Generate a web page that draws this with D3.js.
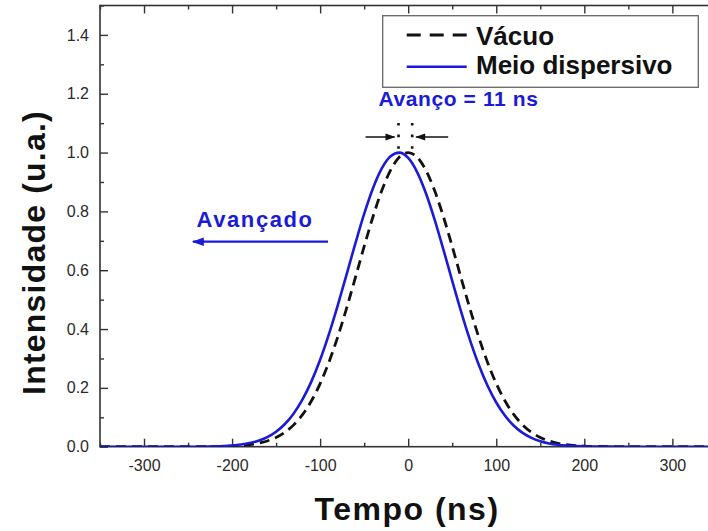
<!DOCTYPE html>
<html><head><meta charset="utf-8">
<script src="https://cdn.jsdelivr.net/npm/d3@7"></script>
<style>
body{margin:0;background:#fff}
svg{display:block;font-family:"Liberation Sans",Arial,Helvetica,sans-serif}
</style>
</head><body>
<svg id="chart" width="708" height="531"></svg>
<script>
// ---- data ----
const tempo = [-350,-300,-250,-240,-230,-220,-210,-200,-190,-180,-170,-160,-150,-140,-130,-120,-110,-100,-90,-80,-70,-60,-50,-40,-30,-20,-10,0,
  10,20,30,40,50,60,70,80,90,100,110,120,130,140,150,160,170,180,190,200,210,220,230,240,250,300,350];
const vacuo = [0,0,0,0,0.0003,0.0006,0.0011,0.0021,0.0039,0.0068,0.0117,0.0195,0.0313,0.0490,0.0742,0.1090,0.1553,0.2147,0.2875,0.3735,0.4705,0.5747,0.6807,0.7818,0.8707,0.9403,0.9847,1.0,
  0.9847,0.9403,0.8707,0.7818,0.6807,0.5747,0.4705,0.3735,0.2875,0.2147,0.1553,0.1090,0.0742,0.0490,0.0313,0.0195,0.0117,0.0068,0.0039,0.0021,0.0011,0.0006,0.0003,0,0,0,0];
const meioDispersivo = [0,0,0,0,0.0006,0.0012,0.0023,0.0041,0.0072,0.0123,0.0204,0.0328,0.0511,0.0772,0.1131,0.1607,0.2213,0.2955,0.3828,0.4806,0.5853,0.6911,0.7913,0.8786,0.9460,0.9876,0.9998,0.9816,
  0.9344,0.8625,0.7721,0.6701,0.5641,0.4603,0.3643,0.2796,0.2081,0.1502,0.1051,0.0713,0.0469,0.0299,0.0185,0.0111,0.0065,0.0036,0.0020,0.0011,0.0005,0.0003,0.0001,0,0,0,0];
const seriesNames = ["Vácuo","Meio dispersivo"];
const xMajorTicks = [-300,-200,-100,0,100,200,300];
const xMinorTicks = [-350,-250,-150,-50,50,150,250,350];
const yMajorTicks = [0,0.2,0.4,0.6,0.8,1.0,1.2,1.4];
const yMinorTicks = [0.1,0.3,0.5,0.7,0.9,1.1,1.3,1.5];
const xDomain = [-350,350];
const yDomain = [0,1.5];
const picoVacuo = 0, picoMeio = -11;
const avancoLabel = "Avanço = 11 ns";
const avancadoLabel = "Avançado";
const xTitle = "Tempo (ns)";
const yTitle = "Intensidade (u.a.)";

// ---- drawing ----
const svg = d3.select("#chart");
const L = 100, R = 716.4, T = 5.5, B = 446.7;
const x = d3.scaleLinear().domain(xDomain).range([L, R]);
const y = d3.scaleLinear().domain(yDomain).range([B, T]);
const axisColor = "#333";
const blue = "#1a1ad8";

svg.append("defs").append("clipPath").attr("id","clip")
  .append("rect").attr("x",L).attr("y",T).attr("width",R-L).attr("height",B-T);

function styleAxis(g){
  g.select(".domain").remove();
  g.selectAll("line").attr("stroke",axisColor).attr("stroke-width",1.4);
  g.selectAll("text").attr("fill","#2a2a2a").style("font-size","16px");
}
// bottom
svg.append("g").attr("transform",`translate(0,${B})`)
  .call(d3.axisBottom(x).tickValues(xMajorTicks).tickSize(-8).tickPadding(13).tickFormat(d => String(d)))
  .call(styleAxis);
svg.append("g").attr("transform",`translate(0,${B})`)
  .call(d3.axisBottom(x).tickValues(xMinorTicks).tickSize(-4).tickFormat(""))
  .call(styleAxis);
// top
svg.append("g").attr("transform",`translate(0,${T})`)
  .call(d3.axisTop(x).tickValues(xMajorTicks).tickSize(-8).tickFormat(""))
  .call(styleAxis);
svg.append("g").attr("transform",`translate(0,${T})`)
  .call(d3.axisTop(x).tickValues(xMinorTicks).tickSize(-4).tickFormat(""))
  .call(styleAxis);
// left
svg.append("g").attr("transform",`translate(${L},0)`)
  .call(d3.axisLeft(y).tickValues(yMajorTicks).tickSize(-8).tickPadding(11).tickFormat(d => d.toFixed(1)))
  .call(styleAxis);
svg.append("g").attr("transform",`translate(${L},0)`)
  .call(d3.axisLeft(y).tickValues(yMinorTicks).tickSize(-4).tickFormat(""))
  .call(styleAxis);
// right
svg.append("g").attr("transform",`translate(${R},0)`)
  .call(d3.axisRight(y).tickValues(yMajorTicks).tickSize(-8).tickFormat(""))
  .call(styleAxis);
svg.append("g").attr("transform",`translate(${R},0)`)
  .call(d3.axisRight(y).tickValues(yMinorTicks).tickSize(-4).tickFormat(""))
  .call(styleAxis);

// frame
svg.append("rect").attr("x",L).attr("y",T).attr("width",R-L).attr("height",B-T)
  .attr("fill","none").attr("stroke",axisColor).attr("stroke-width",1.6);

// curves
const line = d3.line().x((d,i)=>x(tempo[i])).y(d=>y(d)).curve(d3.curveMonotoneX);
const plot = svg.append("g").attr("clip-path","url(#clip)");
plot.append("path").datum(vacuo).attr("d",line)
  .attr("fill","none").attr("stroke","#111").attr("stroke-width",2.8).attr("stroke-dasharray","10 6");
plot.append("path").datum(meioDispersivo).attr("d",line)
  .attr("fill","none").attr("stroke",blue).attr("stroke-width",2.6);

// legend
const lg = svg.append("g");
lg.append("rect").attr("x",382.7).attr("y",15.7).attr("width",315.6).attr("height",71.6)
  .attr("fill","#fff").attr("stroke","#666").attr("stroke-width",1.3);
lg.append("line").attr("x1",406.7).attr("x2",466.7).attr("y1",35).attr("y2",35)
  .attr("stroke","#111").attr("stroke-width",2.8).attr("stroke-dasharray","14 9");
lg.append("line").attr("x1",406.7).attr("x2",466.7).attr("y1",66.7).attr("y2",66.7)
  .attr("stroke",blue).attr("stroke-width",2.6);
lg.selectAll("text.leg").data(seriesNames).join("text").attr("class","leg")
  .attr("x",476).attr("y",(d,i)=>i===0?45:73.5)
  .attr("fill","#111").style("font-size","26px").style("font-weight","bold")
  .text(d=>d);

// arrowheads
const defs = svg.select("defs");
function marker(id,color,w,h){
  defs.append("marker").attr("id",id).attr("viewBox","0 0 10 10").attr("refX",9).attr("refY",5)
    .attr("markerUnits","userSpaceOnUse").attr("markerWidth",w).attr("markerHeight",h).attr("orient","auto")
    .append("path").attr("d","M0,1.5 L10,5 L0,8.5 Z").attr("fill",color);
}
marker("arrK","#111",12,10);
marker("arrB",blue,14,12);

// advance annotation
const yArrow = 137;
svg.append("line").attr("x1",x(picoMeio)-33).attr("x2",x(picoMeio)-4).attr("y1",yArrow).attr("y2",yArrow)
  .attr("stroke","#111").attr("stroke-width",1.5).attr("marker-end","url(#arrK)");
svg.append("line").attr("x1",x(picoVacuo)+40).attr("x2",x(picoVacuo)+8).attr("y1",yArrow).attr("y2",yArrow)
  .attr("stroke","#111").attr("stroke-width",1.5).attr("marker-end","url(#arrK)");
[picoMeio, picoVacuo].forEach((p,i)=>{
  const xx = x(p) + (i===0 ? 0 : 4);
  svg.append("line").attr("x1",xx).attr("x2",xx).attr("y1",123).attr("y2",151)
    .attr("stroke","#111").attr("stroke-width",2.6).attr("stroke-dasharray","2.6 9");
});
svg.append("text").attr("x",378.5).attr("y",106).attr("fill",blue)
  .style("font-size","21px").style("font-weight","bold").style("letter-spacing","0.6px")
  .text(avancoLabel);

// "Avançado" label + arrow
svg.append("text").attr("x",196.5).attr("y",227).attr("fill",blue)
  .style("font-size","22px").style("font-weight","bold").style("letter-spacing","1.6px")
  .text(avancadoLabel);
svg.append("line").attr("x1",328).attr("x2",193).attr("y1",241.7).attr("y2",241.7)
  .attr("stroke",blue).attr("stroke-width",2.2).attr("marker-end","url(#arrB)");

// axis titles
svg.append("text").attr("x",407).attr("y",520).attr("text-anchor","middle")
  .attr("fill","#111").style("font-size","32px").style("font-weight","bold").style("letter-spacing","1.5px")
  .text(xTitle);
svg.append("text").attr("transform","translate(45,252.5) rotate(-90)").attr("text-anchor","middle")
  .attr("fill","#111").style("font-size","32px").style("font-weight","bold").style("letter-spacing","1.2px")
  .text(yTitle);
</script>
</body></html>
